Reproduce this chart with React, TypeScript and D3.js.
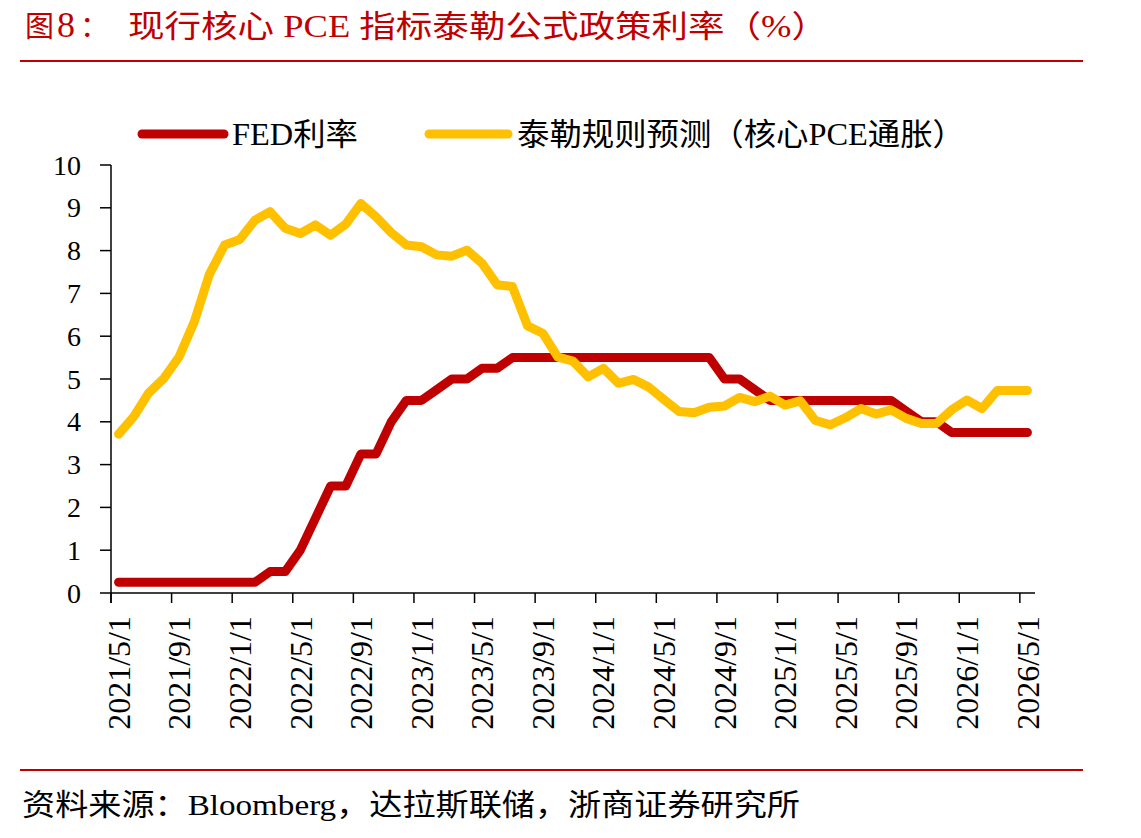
import { useEffect, useRef } from 'react'
import * as d3 from 'd3'

// monthly, 2021/5 .. 2026/5
const months: Date[] = d3.timeMonth.range(new Date(2021, 4, 1), new Date(2026, 5, 1))

const tickLabels = [
  '2021/5/1', '2021/9/1', '2022/1/1', '2022/5/1', '2022/9/1', '2023/1/1', '2023/5/1', '2023/9/1',
  '2024/1/1', '2024/5/1', '2024/9/1', '2025/1/1', '2025/5/1', '2025/9/1', '2026/1/1', '2026/5/1',
]

const fedRate = [
  0.25, 0.25, 0.25, 0.25, 0.25, 0.25, 0.25, 0.25, 0.25, 0.25,
  0.5, 0.5, 1.0, 1.75, 2.5, 2.5, 3.25, 3.25, 4.0, 4.5,
  4.5, 4.75, 5.0, 5.0, 5.25, 5.25, 5.5, 5.5, 5.5, 5.5,
  5.5, 5.5, 5.5, 5.5, 5.5, 5.5, 5.5, 5.5, 5.5, 5.5,
  5.0, 5.0, 4.75, 4.5, 4.5, 4.5, 4.5, 4.5, 4.5, 4.5,
  4.5, 4.5, 4.25, 4.0, 4.0, 3.75, 3.75, 3.75, 3.75, 3.75, 3.75,
]

const taylorRate = [
  3.71, 4.12, 4.68, 5.02, 5.52, 6.34, 7.45, 8.13, 8.26, 8.71,
  8.91, 8.52, 8.40, 8.60, 8.36, 8.62, 9.10, 8.79, 8.42, 8.13,
  8.09, 7.90, 7.87, 8.01, 7.70, 7.20, 7.16, 6.24, 6.07, 5.51,
  5.42, 5.05, 5.25, 4.90, 4.99, 4.81, 4.52, 4.24, 4.21, 4.34,
  4.37, 4.57, 4.47, 4.60, 4.39, 4.49, 4.03, 3.93, 4.10, 4.31,
  4.18, 4.28, 4.08, 3.96, 3.96, 4.28, 4.51, 4.31, 4.73, 4.73, 4.73,
]

const yTicks = [0, 1, 2, 3, 4, 5, 6, 7, 8, 9, 10]

const RED = '#C00000'
const YELLOW = '#FFC000'
const FONT = '"Liberation Serif", "Times New Roman", "Noto Sans CJK SC", serif'

export default function App() {
  const svgRef = useRef<SVGSVGElement>(null)

  useEffect(() => {
    if (!svgRef.current) return
    document.body.style.margin = '0'

    const width = 1141
    const height = 838

    const svg = d3.select(svgRef.current)
    svg.selectAll('*').remove()
    svg.attr('width', width).attr('height', height).style('display', 'block').style('background', '#fff')

    // Title
    const head = svg.append('text')
      .attr('x', 25).attr('y', 37)
      .attr('fill', RED).style('font-family', FONT).style('font-size', '29px')
    head.append('tspan').text('图')
    head.append('tspan').attr('x', 57).style('font-size', '36px').text('8')
    head.append('tspan').attr('x', 80).text('：')
    svg.append('text')
      .attr('x', 128).attr('y', 37)
      .attr('fill', RED).style('font-family', FONT).style('font-size', '31px')
      .attr('textLength', 700).attr('lengthAdjust', 'spacingAndGlyphs')
      .text('现行核心 PCE 指标泰勒公式政策利率（%）')

    svg.append('line')
      .attr('x1', 20).attr('x2', 1083).attr('y1', 61).attr('y2', 61)
      .attr('stroke', RED).attr('stroke-width', 2)

    // scales
    const x = d3.scaleBand<number>()
      .domain(d3.range(months.length))
      .range([111, 1035])
    const y = d3.scaleLinear().domain([0, 10]).range([593, 165])
    const cx = (i: number) => (x(i) ?? 0) + x.bandwidth() / 2

    const g = svg.append('g')

    // y axis
    g.append('line')
      .attr('x1', 111).attr('x2', 111).attr('y1', y(10)).attr('y2', y(0) + 10)
      .attr('stroke', '#000').attr('stroke-width', 1.5)
    yTicks.forEach(t => {
      g.append('line')
        .attr('x1', 100).attr('x2', 111).attr('y1', y(t)).attr('y2', y(t))
        .attr('stroke', '#000').attr('stroke-width', 1.5)
      g.append('text')
        .attr('x', 81).attr('y', y(t)).attr('dy', '0.34em')
        .attr('text-anchor', 'end')
        .style('font-family', FONT).style('font-size', '28px')
        .text(t)
    })

    // x axis
    g.append('line')
      .attr('x1', 111).attr('x2', 1035).attr('y1', y(0)).attr('y2', y(0))
      .attr('stroke', '#000').attr('stroke-width', 1.5)
    tickLabels.forEach((lab, k) => {
      const i = k * 4
      const tx = x(i) ?? 0
      g.append('line')
        .attr('x1', tx).attr('x2', tx).attr('y1', y(0)).attr('y2', y(0) + 10)
        .attr('stroke', '#000').attr('stroke-width', 1.5)
      g.append('text')
        .attr('transform', `translate(${cx(i)}, 616) rotate(-90)`)
        .attr('dy', '0.35em')
        .attr('text-anchor', 'end')
        .style('font-family', FONT).style('font-size', '32px')
        .text(lab)
    })

    // series
    const line = d3.line<number>()
      .x((_, i) => cx(i))
      .y(d => y(d))

    g.append('path')
      .datum(fedRate)
      .attr('d', line)
      .attr('fill', 'none').attr('stroke', RED).attr('stroke-width', 9)
      .attr('stroke-linecap', 'round').attr('stroke-linejoin', 'round')

    g.append('path')
      .datum(taylorRate)
      .attr('d', line)
      .attr('fill', 'none').attr('stroke', YELLOW).attr('stroke-width', 9)
      .attr('stroke-linecap', 'round').attr('stroke-linejoin', 'round')

    // legend
    const legend = svg.append('g')
    const items = [
      { label: 'FED利率', color: RED, x1: 142, x2: 224, tx: 232, len: 126 },
      { label: '泰勒规则预测（核心PCE通胀）', color: YELLOW, x1: 429, x2: 508, tx: 517, len: 448 },
    ]
    items.forEach(d => {
      legend.append('line')
        .attr('x1', d.x1).attr('x2', d.x2).attr('y1', 134).attr('y2', 134)
        .attr('stroke', d.color).attr('stroke-width', 9).attr('stroke-linecap', 'round')
      legend.append('text')
        .attr('x', d.tx).attr('y', 145)
        .style('font-family', FONT).style('font-size', '31px')
        .attr('textLength', d.len).attr('lengthAdjust', 'spacingAndGlyphs')
        .text(d.label)
    })

    // footer
    svg.append('line')
      .attr('x1', 20).attr('x2', 1083).attr('y1', 770).attr('y2', 770)
      .attr('stroke', RED).attr('stroke-width', 2)
    svg.append('text')
      .attr('x', 22).attr('y', 815)
      .style('font-family', FONT).style('font-size', '30px')
      .attr('textLength', 778).attr('lengthAdjust', 'spacingAndGlyphs')
      .text('资料来源：Bloomberg，达拉斯联储，浙商证券研究所')
  }, [])

  return <svg ref={svgRef}></svg>
}
